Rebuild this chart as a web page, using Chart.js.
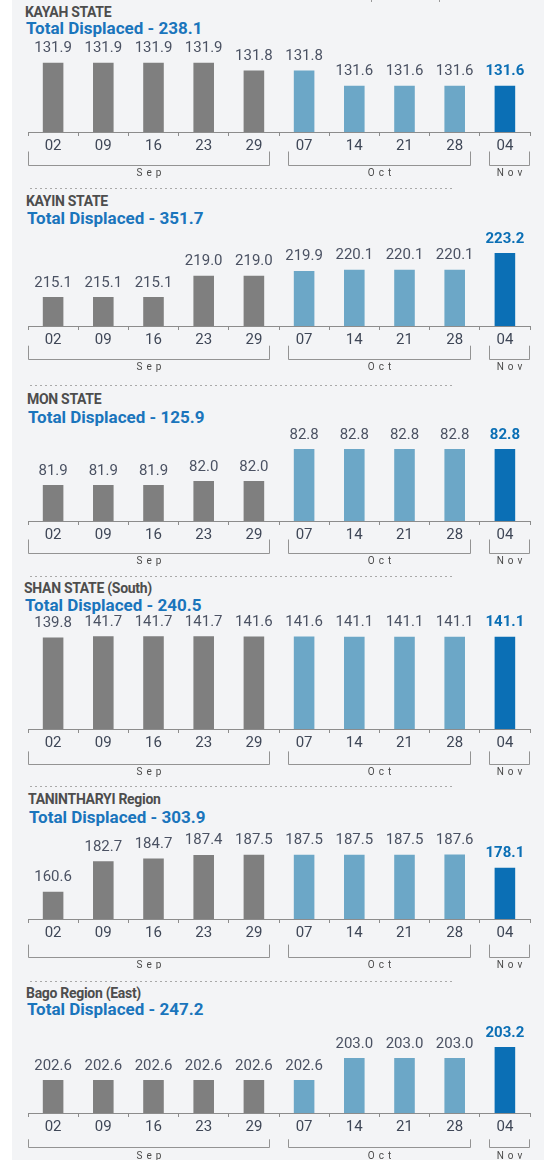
<!DOCTYPE html>
<html>
<head>
<meta charset="utf-8">
<script src="https://cdn.jsdelivr.net/npm/chart.js@4.4.0/dist/chart.umd.min.js"></script>
<style>
    html, body { margin: 0; padding: 0; background: #fff; }
    #page { position: relative; width: 544px; height: 1160px; overflow: hidden; background: #fff; }
    #bg { position: absolute; left: 12px; top: 0; width: 532px; height: 1160px; background: #f3f4f6; }
    .ttl { position: absolute; font-family: Roboto, sans-serif; font-weight: 700; white-space: nowrap; }
    .name { font-size: 14px; line-height: 16px; color: #4d4d4d; letter-spacing: -0.3px; }
    .total { font-size: 17px; line-height: 20px; color: #1a75bc; }
    .sep { position: absolute; height: 1px; background: repeating-linear-gradient(to right, #a9a9a9 0 2px, transparent 2px 5px); }
    .nub { position: absolute; top: 0; width: 1px; height: 2px; background: #9a9a9a; }
    canvas { position: absolute; left: 0; }
</style>
</head>
<body>
<div id="page"><div id="bg"></div></div>
<script>
// x axis: week days, grouped by month
const dates = ['02', '09', '16', '23', '29', '07', '14', '21', '28', '04'];
const monthNames = ['Sep', 'Oct', 'Nov'];
const monthStart = [0, 5, 9];
const monthEnd = [4, 8, 9];

// displaced people (thousands) per week
const kayah = [131.9, 131.9, 131.9, 131.9, 131.8, 131.8, 131.6, 131.6, 131.6, 131.6];
const kayin = [215.1, 215.1, 215.1, 219.0, 219.0, 219.9, 220.1, 220.1, 220.1, 223.2];
const mon = [81.9, 81.9, 81.9, 82.0, 82.0, 82.8, 82.8, 82.8, 82.8, 82.8];
const shanSouth = [139.8, 141.7, 141.7, 141.7, 141.6, 141.6, 141.1, 141.1, 141.1, 141.1];
const tanintharyi = [160.6, 182.7, 184.7, 187.4, 187.5, 187.5, 187.5, 187.5, 187.6, 178.1];
const bagoEast = [202.6, 202.6, 202.6, 202.6, 202.6, 202.6, 203.0, 203.0, 203.0, 203.2];

const regionNames = ['KAYAH STATE', 'KAYIN STATE', 'MON STATE', 'SHAN STATE (South)', 'TANINTHARYI Region', 'Bago Region (East)'];
const totals = [238.1, 351.7, 125.9, 240.5, 303.9, 247.2];
const series = [kayah, kayin, mon, shanSouth, tanintharyi, bagoEast];

// truncated value axes, as in the original
const axisMin = [131.0, 209.76, 81.0, 0, 140.75, 202.0];
const axisMax = [132.30, 228.18, 83.5, 152.9, 213.5, 203.82];

// page layout (px)
const panels = [
    { base: 132, nameY: 11.7, totalY: 27.7, x: 25, bracket: [19.5, 32.5, 40] },
    { base: 326, nameY: 200.5, totalY: 218.2, x: 26, bracket: [19.7, 33, 40] },
    { base: 521, nameY: 398.3, totalY: 416.7, x: 27, bracket: [18.5, 32, 39.5] },
    { base: 729, nameY: 587.3, totalY: 604.3, x: 24, bracket: [22.4, 34.7, 42.4] },
    { base: 919, nameY: 799, totalY: 816.7, x: 28, bracket: [25.6, 37.6, 45.5] },
    { base: 1113, nameY: 992.3, totalY: 1009, x: 26, bracket: [26.3, 34.3, 42] }
];
const separators = [188, 385, 576, 786, 981];

const GREY = '#7f7f7f', LIGHT = '#6ca7c7', DARK = '#0b6fb5';
const barColors = dates.map((d, i) => i === dates.length - 1 ? DARK : (i >= monthStart[1] ? LIGHT : GREY));

const page = document.getElementById('page');

const valueLabels = {
    id: 'valueLabels',
    afterDatasetsDraw(chart) {
        const ctx = chart.ctx;
        const vals = chart.data.datasets[0].data;
        ctx.save();
        ctx.textAlign = 'center';
        ctx.textBaseline = 'alphabetic';
        chart.getDatasetMeta(0).data.forEach((bar, i) => {
            const last = i === vals.length - 1;
            ctx.font = (last ? 'bold ' : '') + '15px Roboto';
            ctx.fillStyle = last ? DARK : '#4b5263';
            ctx.fillText(vals[i].toFixed(1), bar.x, bar.y - 10.5);
        });
        ctx.restore();
    }
};

const monthBrackets = {
    id: 'monthBrackets',
    afterDraw(chart, args, opts) {
        const ctx = chart.ctx;
        const xs = chart.scales.x;
        const base = chart.chartArea.bottom;
        const step = xs.width / dates.length;
        ctx.save();
        ctx.strokeStyle = '#939393';
        ctx.lineWidth = 1;
        ctx.fillStyle = '#4a4a4a';
        ctx.font = '10px Roboto';
        ctx.textAlign = 'center';
        ctx.letterSpacing = '4px';
        monthNames.forEach((m, k) => {
            let l = xs.getPixelForValue(monthStart[k]) - step / 2;
            let r = xs.getPixelForValue(monthEnd[k]) + step / 2;
            if (monthStart[k] > 0) l += 9;
            if (monthEnd[k] < dates.length - 1) r -= 9;
            l = Math.round(l) + 0.5;
            r = Math.round(r) - 0.5;
            const t = base + opts.top, b = Math.round(base + opts.bottom) + 0.5;
            ctx.beginPath();
            ctx.moveTo(l, t);
            ctx.lineTo(l, b);
            ctx.lineTo(r, b);
            ctx.lineTo(r, t);
            ctx.stroke();
            ctx.fillText(m, (l + r) / 2 + 2, base + opts.label + 3.6);
        });
        ctx.restore();
    }
};

function addText(cls, text, x, top) {
    const el = document.createElement('div');
    el.className = 'ttl ' + cls;
    el.textContent = text;
    el.style.left = x + 'px';
    el.style.top = top + 'px';
    page.appendChild(el);
}

separators.forEach(y => {
    const s = document.createElement('div');
    s.className = 'sep';
    s.style.left = '30px';
    s.style.width = '422px';
    s.style.top = y + 'px';
    page.appendChild(s);
});
[371, 439].forEach(x => {
    const n = document.createElement('div');
    n.className = 'nub';
    n.style.left = x + 'px';
    page.appendChild(n);
});

panels.forEach((p, k) => {
    addText('name', regionNames[k], p.x, p.nameY - 7.8);
    addText('total', 'Total Displaced - ' + totals[k].toFixed(1), p.x + 1, p.totalY - 9.8);

    const cv = document.createElement('canvas');
    cv.width = 544;
    cv.height = 180;
    cv.style.top = (p.base - 130) + 'px';
    page.appendChild(cv);

    new Chart(cv, {
        type: 'bar',
        data: {
            labels: dates,
            datasets: [{
                data: series[k],
                backgroundColor: barColors,
                borderWidth: 0,
                barPercentage: 0.41,
                categoryPercentage: 1
            }]
        },
        options: {
            responsive: false,
            animation: false,
            devicePixelRatio: 1,
            layout: { padding: { left: 28, right: 14, top: 30, bottom: 0 } },
            plugins: {
                legend: { display: false },
                tooltip: { enabled: false },
                monthBrackets: { top: p.bracket[0], bottom: p.bracket[1], label: p.bracket[2] }
            },
            scales: {
                x: {
                    grid: { display: true, drawOnChartArea: false, drawTicks: true, tickLength: 4, color: '#8c8c8c', offset: true },
                    border: { display: true, color: '#8c8c8c' },
                    ticks: { color: '#3f4757', font: { family: 'Roboto', size: 15 }, padding: 1, maxRotation: 0, autoSkip: false },
                    afterFit: (s) => { s.height = 50; }
                },
                y: { display: false, min: axisMin[k], max: axisMax[k] }
            }
        },
        plugins: [valueLabels, monthBrackets]
    });
});
</script>
</body>
</html>
